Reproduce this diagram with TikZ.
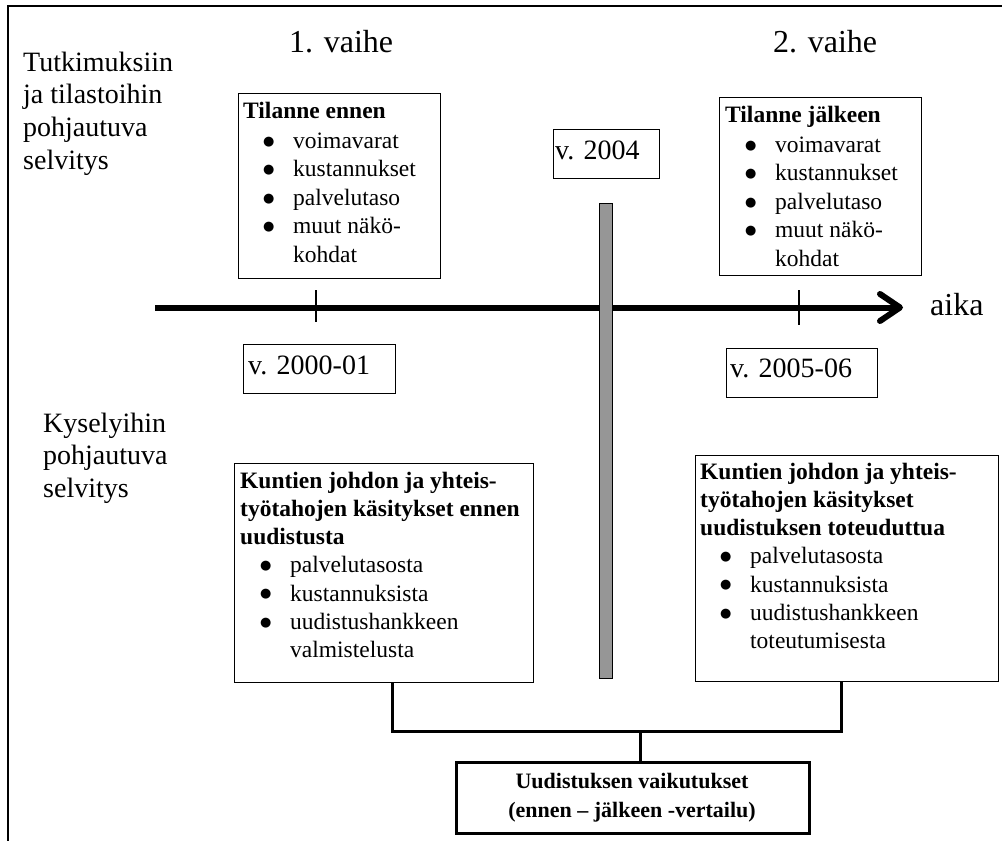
\documentclass[tikz,border=0pt]{standalone}
\usepackage{fontspec}
\setmainfont{Liberation Serif}
\newfontfamily\dejavu{DejaVu Sans}
\usetikzlibrary{arrows.meta,calc}
\definecolor{barcol}{RGB}{150,150,150}
\newcommand{\bul}[1]{\hspace*{20pt}\makebox[30pt][l]{\raisebox{3.2pt}{\dejavu\fontsize{13}{13}\selectfont ●}}#1}
\newcommand{\cnt}[1]{\hspace*{50pt}#1}
\begin{document}
\begin{tikzpicture}[x=1pt,y=-1pt,
  box/.style={draw,line width=1.4pt,anchor=north west,inner sep=0pt},
  txt/.style={anchor=north west,inner sep=0pt,align=left,font=\fontsize{23.5}{28.5}\selectfont},
  ktxt/.style={txt,font=\fontsize{23.5}{28.2}\selectfont},
  yt/.style={anchor=base west,inner sep=0pt,font=\fontsize{28}{32}\selectfont},
  lab/.style={anchor=north west,inner sep=0pt,align=left,font=\fontsize{28}{32.7}\selectfont},
  ttl/.style={anchor=base west,inner sep=0pt,font=\fontsize{32}{36}\selectfont},
  thin/.style={line width=1.1pt},
  bk/.style={line width=2.7pt},
]
\useasboundingbox (0,0) rectangle (1002,841);
% frame
\draw[line width=2.5pt] (1002,6) -- (8,6) -- (8,841);

% titles
\node[ttl] (ph1) at (289,52) {1. vaihe};
\node[ttl] (ph2) at (773,52) {2. vaihe};
\node[ttl] (aika) at (930,315) {aika};

% side labels
\node[lab] (lab1) at (23,47) {\rule{0pt}{24pt}Tutkimuksiin\\ja tilastoihin\\pohjautuva\\selvitys};
\node[lab] (lab2) at (43,408) {\rule{0pt}{24pt}Kyselyihin\\pohjautuva\\selvitys};

% boxes
\node[box,minimum width=202pt,minimum height=185pt] (tilA) at (238,93) {};
\node[box,minimum width=106pt,minimum height=49pt] (y2004) at (553,129) {};
\node[box,minimum width=202pt,minimum height=178pt] (tilB) at (719,97) {};
\node[box,minimum width=152pt,minimum height=49pt] (y2000) at (243,344) {};
\node[box,minimum width=151pt,minimum height=49pt] (y2005) at (726,348) {};
\node[box,minimum width=299pt,minimum height=219pt] (kunA) at (234,463) {};
\node[box,minimum width=303pt,minimum height=226pt] (kunB) at (695,455) {};
\node[box,line width=3pt,minimum width=353pt,minimum height=71pt] (res) at (455,761) {};

% box texts
\node[txt] (tilAt) at ($(tilA.north west)+(5,5)$) {\rule{0pt}{20pt}\textbf{Tilanne ennen}\\[1.5pt]
\bul{voimavarat}\\ \bul{kustannukset}\\ \bul{palvelutaso}\\ \bul{muut näkö-}\\ \cnt{kohdat}};
\node[txt] (tilBt) at ($(tilB.north west)+(6,5)$) {\rule{0pt}{20pt}\textbf{Tilanne jälkeen}\\[1.5pt]
\bul{voimavarat}\\ \bul{kustannukset}\\ \bul{palvelutaso}\\ \bul{muut näkö-}\\ \cnt{kohdat}};
\node[ktxt] (kunAt) at ($(kunA.north west)+(6,5)$) {\rule{0pt}{20pt}\textbf{Kuntien johdon ja yhteis-}\\
\textbf{työtahojen käsitykset ennen}\\ \textbf{uudistusta}\\
\bul{palvelutasosta}\\ \bul{kustannuksista}\\ \bul{uudistushankkeen}\\ \cnt{valmistelusta}};
\node[ktxt] (kunBt) at ($(kunB.north west)+(5,4)$) {\rule{0pt}{20pt}\textbf{Kuntien johdon ja yhteis-}\\
\textbf{työtahojen käsitykset}\\ \textbf{uudistuksen toteuduttua}\\
\bul{palvelutasosta}\\ \bul{kustannuksista}\\ \bul{uudistushankkeen}\\ \cnt{toteutumisesta}};

\node[yt] (t2004) at ($(y2004.north west)+(2,30)$) {v. 2004};
\node[yt] (t2000) at ($(y2000.north west)+(5,30)$) {v. 2000-01};
\node[yt] (t2005) at ($(y2005.north west)+(4,29)$) {v. 2005-06};

\node[anchor=north,inner sep=0pt,align=center,font=\bfseries\fontsize{22}{29}\selectfont] (rest) at ($(res.north)+(-1,7)$)
  {\rule{0pt}{20pt}Uudistuksen vaikutukset\\(ennen – jälkeen -vertailu)};

% time axis
\coordinate (axL) at (155,307.5);
\coordinate (axR) at (903,307.5);
\draw[line width=6pt,-{Straight Barb[length=20pt,width=27pt,line join=round,line cap=round]}] (axL) -- (axR);
\draw[thin] (316,290) -- (316,322);
\draw[thin] (799,290) -- (799,325);

% vertical divider
\draw[fill=barcol,line width=1pt] (599,203) rectangle (612,678);

% connectors
\draw[thin] ($(y2000.south)+(2,0)$) -- ($(y2000.south)+(2,0)$ |- kunA.north);
\draw[thin] ($(y2005.south)+(2.5,0)$) -- ($(y2005.south)+(2.5,0)$ |- kunB.north);
\draw[bk] ($(kunA.south)+(8,0)$) -- ++(0,48) -| ($(kunB.south)+(-6,0)$);
\draw[bk] ($(res.north)+(7.5,0)$) -- ++(0,-31);
\end{tikzpicture}
\end{document}
